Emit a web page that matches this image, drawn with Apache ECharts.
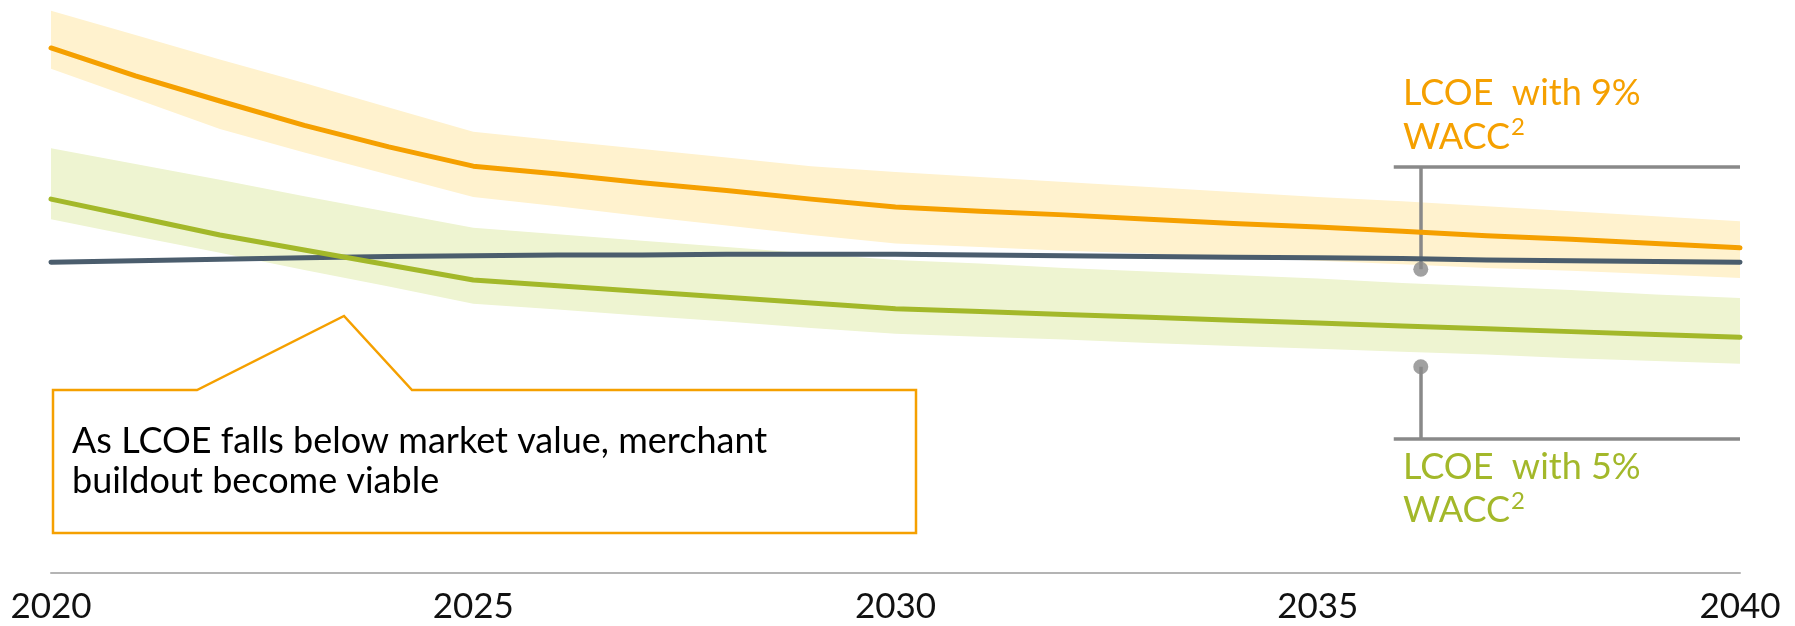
<!DOCTYPE html>
<html>
<head>
<meta charset="utf-8">
<script src="https://cdn.jsdelivr.net/npm/echarts@6/dist/echarts.min.js"></script>
<style>
  html, body { margin: 0; padding: 0; background: #fff; }
  #chart { width: 1795px; height: 626px; }
</style>
</head>
<body>
<div id="chart"></div>
<script>
// yearly values (arbitrary cost units)
const years = [2020, 2021, 2022, 2023, 2024, 2025, 2026, 2027, 2028, 2029, 2030,
  2031, 2032, 2033, 2034, 2035, 2036, 2037, 2038, 2039, 2040]

const lcoe9 = [73.3, 69.4, 65.9, 62.5, 59.5, 56.8, 55.7, 54.5, 53.4, 52.2, 51.1,
  50.5, 50.0, 49.4, 48.8, 48.3, 47.7, 47.1, 46.6, 46.0, 45.4]
const lcoe9High = [78.5, 75.1, 71.7, 68.4, 65.0, 61.6, 60.4, 59.2, 58.0, 56.8, 56.0,
  55.3, 54.6, 53.9, 53.2, 52.5, 51.9, 51.2, 50.5, 49.8, 49.1]
const lcoe9Low = [70.4, 66.2, 62.0, 58.7, 55.6, 52.5, 51.2, 49.8, 48.5, 47.2, 46.0,
  45.5, 45.0, 44.6, 44.1, 43.6, 43.1, 42.6, 42.2, 41.7, 41.2]

const lcoe5 = [52.2, 49.7, 47.2, 45.1, 43.0, 40.9, 40.1, 39.3, 38.5, 37.7, 36.9,
  36.5, 36.1, 35.7, 35.3, 34.9, 34.5, 34.1, 33.7, 33.3, 32.9]
const lcoe5High = [59.3, 57.1, 54.9, 52.6, 50.4, 48.2, 47.3, 46.4, 45.5, 44.6, 43.7,
  43.2, 42.6, 42.1, 41.6, 41.1, 40.5, 40.0, 39.5, 38.9, 38.4]
const lcoe5Low = [49.4, 47.0, 44.7, 42.3, 40.0, 37.6, 36.8, 35.9, 35.1, 34.2, 33.4,
  33.0, 32.6, 32.1, 31.7, 31.3, 30.9, 30.5, 30.0, 29.6, 29.2]

const marketValue = [43.4, 43.6, 43.8, 44.0, 44.2, 44.3, 44.4, 44.4, 44.5, 44.5, 44.5,
  44.4, 44.3, 44.2, 44.1, 44.0, 43.9, 43.7, 43.6, 43.5, 43.4]

const tickYears = [2020, 2025, 2030, 2035, 2040]

// gap brackets at the right (year, value)
const bracketYear = 2036.22
const bracketStart = 2035.9
const bracket9 = [56.7, 42.4]   // bar level, dot level
const bracket5 = [18.7, 28.8]

const ORANGE = '#F5A000'
const GREEN = '#A3B82A'
const SLATE = '#4B5D6D'
const GREY = '#898989'

const pairs = vals => years.map((y, i) => [y, vals[i]])

// shaded range between two yearly series
const band = (hi, lo, color) => ({
  type: 'custom', silent: true,
  data: [[years[0], hi[0]]],
  renderItem: (params, api) => {
    const top = years.map((y, i) => api.coord([y, hi[i]]))
    const bottom = years.map((y, i) => api.coord([y, lo[i]])).reverse()
    return { type: 'polygon', shape: { points: top.concat(bottom) }, style: { fill: color } }
  }
})

const mainLine = (name, vals, color) => ({
  name, type: 'line', data: pairs(vals), symbol: 'none', silent: true,
  lineStyle: { color, width: 5, cap: 'round', join: 'round' }
})

const chart = echarts.init(document.getElementById('chart'))
chart.setOption({
  animation: false,
  backgroundColor: '#fff',
  grid: { left: 51, right: 55, top: 0, bottom: 53, containLabel: false, outerBoundsMode: 'none' },
  xAxis: {
    type: 'value', min: 2020, max: 2040, interval: 5,
    axisLine: { show: true, lineStyle: { color: '#b4b4b4', width: 2 } },
    axisTick: { show: false },
    splitLine: { show: false },
    axisLabel: {
      margin: 16, color: '#111', fontFamily: 'Lato', fontSize: 35, lineHeight: 35,
      formatter: v => tickYears.includes(v) ? String(v) : ''
    }
  },
  yAxis: { type: 'value', min: 0, max: 80, show: false, splitLine: { show: false } },
  series: [
    band(lcoe9High, lcoe9Low, '#FFF2CE'),
    band(lcoe5High, lcoe5Low, '#EEF4D1'),
    {
      type: 'lines', coordinateSystem: 'cartesian2d', silent: true,
      lineStyle: { color: GREY, width: 3.5, opacity: 1 },
      data: [
        { coords: [[bracketStart, bracket9[0]], [2040, bracket9[0]]] },
        { coords: [[bracketYear, bracket9[0]], [bracketYear, bracket9[1]]] },
        { coords: [[bracketYear, bracket5[1]], [bracketYear, bracket5[0]]] },
        { coords: [[bracketStart, bracket5[0]], [2040, bracket5[0]]] }
      ]
    },
    {
      type: 'scatter', silent: true, symbolSize: 15,
      itemStyle: { color: GREY },
      data: [[bracketYear, bracket9[1]], [bracketYear, bracket5[1]]]
    },
    mainLine('Market value', marketValue, SLATE),
    mainLine('LCOE 5%', lcoe5, GREEN),
    mainLine('LCOE 9%', lcoe9, ORANGE)
  ],
  graphic: [
    {
      type: 'polygon', silent: true,
      shape: { points: [[53, 390], [197, 390], [344, 316], [412, 390], [916, 390], [916, 533], [53, 533]] },
      style: { fill: '#fff', stroke: ORANGE, lineWidth: 2.5 }
    },
    {
      type: 'text', x: 72, y: 421, silent: true,
      style: {
        text: 'As LCOE falls below market value, merchant\nbuildout become viable',
        fontFamily: 'Lato', fontSize: 36, lineHeight: 40, fill: '#000', verticalAlign: 'top'
      }
    },
    {
      type: 'text', x: 1403, y: 71, silent: true,
      style: {
        text: '{a|LCOE  with 9%}\n{a|WACC}{s|2}',
        fill: ORANGE, verticalAlign: 'top',
        rich: {
          a: { fontFamily: 'Lato', fontSize: 36, lineHeight: 44, fill: ORANGE },
          s: { fontFamily: 'Lato', fontSize: 24, lineHeight: 30, fill: ORANGE, verticalAlign: 'top', padding: [0, 0, 0, 1] }
        }
      }
    },
    {
      type: 'text', x: 1403, y: 446, silent: true,
      style: {
        text: '{a|LCOE  with 5%}\n{a|WACC}{s|2}',
        fill: GREEN, verticalAlign: 'top',
        rich: {
          a: { fontFamily: 'Lato', fontSize: 36, lineHeight: 43, fill: GREEN },
          s: { fontFamily: 'Lato', fontSize: 24, lineHeight: 30, fill: GREEN, verticalAlign: 'top', padding: [0, 0, 0, 1] }
        }
      }
    }
  ]
})
</script>
</body>
</html>
